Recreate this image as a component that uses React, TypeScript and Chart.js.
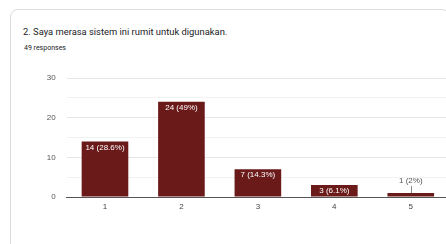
import React, { useEffect, useRef } from "react";
import { Chart, registerables } from "chart.js";

Chart.register(...registerables);

const categories = ["1", "2", "3", "4", "5"];
const counts = [14, 24, 7, 3, 1];
const percentLabels = ["28.6%", "49%", "14.3%", "6.1%", "2%"];
const yTickLabels = [0, 10, 20, 30];

const BAR_COLOR = "#6b1a1a";

const labelPlugin = {
  id: "barLabels",
  afterDatasetsDraw(chart: any) {
    const ctx = chart.ctx;
    const meta = chart.getDatasetMeta(0);
    ctx.save();
    ctx.font = "8px 'Liberation Sans', Arial, sans-serif";
    ctx.textAlign = "center";
    ctx.textBaseline = "top";
    meta.data.forEach((bar: any, i: number) => {
      const text = `${counts[i]} (${percentLabels[i]})`;
      const h = bar.base - bar.y;
      if (h > 8) {
        ctx.fillStyle = "#ffffff";
        ctx.fillText(text, bar.x, bar.y + 2);
      } else {
        ctx.fillStyle = "#555555";
        ctx.textBaseline = "bottom";
        ctx.fillText(text, bar.x, bar.y - 8);
        ctx.strokeStyle = "#888888";
        ctx.lineWidth = 1;
        ctx.beginPath();
        ctx.moveTo(Math.round(bar.x) + 0.5, bar.y - 7);
        ctx.lineTo(Math.round(bar.x) + 0.5, bar.y);
        ctx.stroke();
        ctx.textBaseline = "top";
      }
    });
    ctx.restore();
  },
};

export default function App() {
  const ref = useRef<HTMLCanvasElement | null>(null);
  useEffect(() => {
    if (!ref.current) return;
    const chart = new Chart(ref.current, {
      type: "bar",
      data: {
        labels: categories,
        datasets: [
          {
            data: counts,
            backgroundColor: BAR_COLOR,
            categoryPercentage: 1,
            barPercentage: 0.61,
          },
        ],
      },
      options: {
        animation: false,
        responsive: false,
        maintainAspectRatio: false,
        layout: { padding: { top: 18, right: 11, left: 0, bottom: 0 } },
        plugins: { legend: { display: false }, tooltip: { enabled: false } },
        scales: {
          x: {
            grid: { display: false, drawTicks: false },
            border: { display: true, color: "#555555", width: 1 },
            ticks: {
              color: "#444444",
              padding: 5,
              font: { size: 8, family: "'Liberation Sans', Arial, sans-serif" },
            },
            afterFit(scale: any) {
              scale.height = 33;
            },
          },
          y: {
            min: 0,
            max: 30,
            border: { display: false },
            grid: {
              drawTicks: false,
              color: (c: any) =>
                c.tick && c.tick.value === 0
                  ? "rgba(0,0,0,0)"
                  : yTickLabels.includes(c.tick.value)
                  ? "#e6e6e6"
                  : "#f2f2f2",
            },
            ticks: {
              stepSize: 5,
              padding: 11,
              color: "#555555",
              font: { size: 8, family: "'Liberation Sans', Arial, sans-serif" },
              callback: (v: any) => (yTickLabels.includes(Number(v)) ? String(v) : ""),
            },
            afterFit(scale: any) {
              scale.width = 66.75;
            },
          },
        },
      },
      plugins: [labelPlugin],
    });
    return () => chart.destroy();
  }, []);

  return (
    <div
      style={{
        position: "fixed",
        left: 0,
        top: 0,
        width: 446,
        height: 244,
        background: "#ffffff",
        overflow: "hidden",
        fontFamily: "Roboto, 'Noto Sans', sans-serif",
      }}
    >
      <div
        style={{
          position: "absolute",
          left: 10,
          top: 9,
          width: 440,
          height: 260,
          border: "1px solid #dadce0",
          borderRadius: 8,
          boxSizing: "border-box",
        }}
      />
      <div
        style={{
          position: "absolute",
          left: 23,
          top: 26,
          fontSize: 9.4,
          color: "#202124",
          whiteSpace: "nowrap",
        }}
      >
        2. Saya merasa sistem ini rumit untuk digunakan.
      </div>
      <div
        style={{
          position: "absolute",
          left: 24,
          top: 44,
          fontSize: 7,
          color: "#202124",
          whiteSpace: "nowrap",
        }}
      >
        49 responses
      </div>
      <canvas
        ref={ref}
        width={460}
        height={170}
        style={{ position: "absolute", left: 0, top: 60, width: 460, height: 170 }}
      />
    </div>
  );
}
